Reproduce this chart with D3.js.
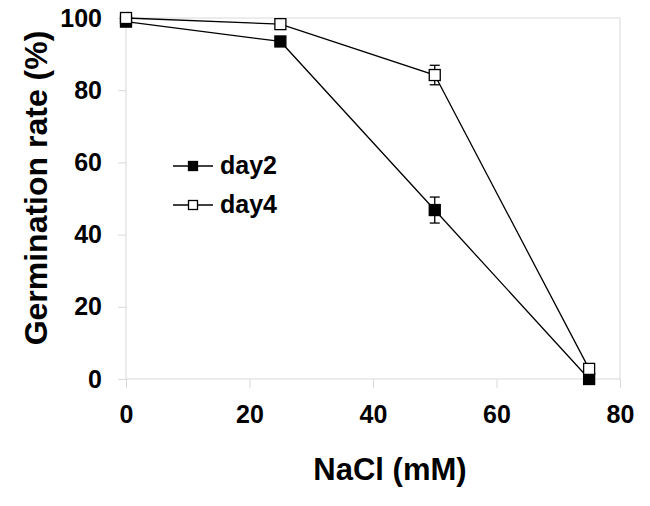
<!DOCTYPE html>
<html>
<head>
<meta charset="utf-8">
<script src="https://cdn.jsdelivr.net/npm/d3@7"></script>
<style>
body { margin: 0; background: #fff; }
svg text { font-family: "Liberation Sans", Arial, sans-serif; font-weight: bold; fill: #000; }
</style>
</head>
<body>
<div id="chart"></div>
<script>
// data
var nacl = [0, 25, 50, 75];
var day2 = [99, 93.5, 46.8, 0];
var day2Err = [0, 0, 3.6, 0];
var day4 = [100, 98.3, 84.2, 2.8];
var day4Err = [0, 0, 2.7, 0];
var xTicks = [0, 20, 40, 60, 80];
var yTicks = [0, 20, 40, 60, 80, 100];

var margin = {top: 18, right: 30, bottom: 127, left: 126},
    width = 650 - margin.left - margin.right,
    height = 506 - margin.top - margin.bottom;

var svg = d3.select("#chart").append("svg")
    .attr("width", 650)
    .attr("height", 506)
    .append("g")
    .attr("transform", "translate(" + margin.left + "," + margin.top + ")");

var x = d3.scaleLinear().domain([0, 80]).range([0, width]);
var y = d3.scaleLinear().domain([0, 100]).range([height, 0]);

// frame
svg.append("rect")
    .attr("x", 0).attr("y", 0)
    .attr("width", width).attr("height", height)
    .style("fill", "none").style("stroke", "#d9d9d9").style("stroke-width", 1);

// x axis
var xAxis = svg.append("g")
    .attr("transform", "translate(0," + height + ")")
    .call(d3.axisBottom(x).tickValues(xTicks).tickSize(9).tickPadding(17));
xAxis.select(".domain").remove();
xAxis.selectAll("line").style("stroke", "#d9d9d9");
xAxis.selectAll("text").style("font-size", "25px");

// y axis
var yAxis = svg.append("g")
    .call(d3.axisLeft(y).tickValues(yTicks).tickSize(8).tickPadding(16));
yAxis.select(".domain").remove();
yAxis.selectAll("line").style("stroke", "#d9d9d9");
yAxis.selectAll("text").style("font-size", "25px");

// axis titles
svg.append("text")
    .attr("x", 264)
    .attr("y", 462)
    .attr("text-anchor", "middle")
    .style("font-size", "31px")
    .text("NaCl (mM)");

svg.append("text")
    .attr("transform", "translate(" + (-79) + ",170) rotate(-90)")
    .attr("text-anchor", "middle")
    .style("font-size", "32px")
    .text("Germination rate (%)");

var line = d3.line()
    .x(function (d) { return x(d[0]); })
    .y(function (d) { return y(d[1]); });

var series = [
    {name: "day2", vals: day2, err: day2Err, fill: "#000"},
    {name: "day4", vals: day4, err: day4Err, fill: "#fff"}
];

var sq = 11;

series.forEach(function (s) {
    var pts = nacl.map(function (n, i) { return [n, s.vals[i], s.err[i]]; });

    svg.append("path")
        .datum(pts)
        .attr("d", line)
        .style("fill", "none")
        .style("stroke", "#000")
        .style("stroke-width", 1.3);

    // error bars
    var eb = svg.selectAll(".err-" + s.name)
        .data(pts.filter(function (d) { return d[2] > 0; }))
        .enter().append("g");
    eb.append("line")
        .attr("x1", function (d) { return x(d[0]); })
        .attr("x2", function (d) { return x(d[0]); })
        .attr("y1", function (d) { return y(d[1] + d[2]); })
        .attr("y2", function (d) { return y(d[1] - d[2]); })
        .style("stroke", "#000").style("stroke-width", 1.3);
    [1, -1].forEach(function (sgn) {
        eb.append("line")
            .attr("x1", function (d) { return x(d[0]) - 5; })
            .attr("x2", function (d) { return x(d[0]) + 5; })
            .attr("y1", function (d) { return y(d[1] + sgn * d[2]); })
            .attr("y2", function (d) { return y(d[1] + sgn * d[2]); })
            .style("stroke", "#000").style("stroke-width", 1.3);
    });

    svg.selectAll(".pt-" + s.name)
        .data(pts)
        .enter().append("rect")
        .attr("x", function (d) { return x(d[0]) - sq / 2; })
        .attr("y", function (d) { return y(d[1]) - sq / 2; })
        .attr("width", sq).attr("height", sq)
        .style("fill", s.fill)
        .style("stroke", "#000")
        .style("stroke-width", 1.3);
});

// legend
var legend = svg.append("g").attr("transform", "translate(47,148)");
series.forEach(function (s, i) {
    var g = legend.append("g").attr("transform", "translate(0," + (i * 39) + ")");
    g.append("line").attr("x1", 0).attr("x2", 40).attr("y1", 0).attr("y2", 0)
        .style("stroke", "#000").style("stroke-width", 1.3);
    g.append("rect").attr("x", 20 - 4.5).attr("y", -4.5)
        .attr("width", 9).attr("height", 9)
        .style("fill", s.fill).style("stroke", "#000").style("stroke-width", 1.3);
    g.append("text").attr("x", 47).attr("y", 8)
        .style("font-size", "25px")
        .text(s.name);
});
</script>
</body>
</html>
